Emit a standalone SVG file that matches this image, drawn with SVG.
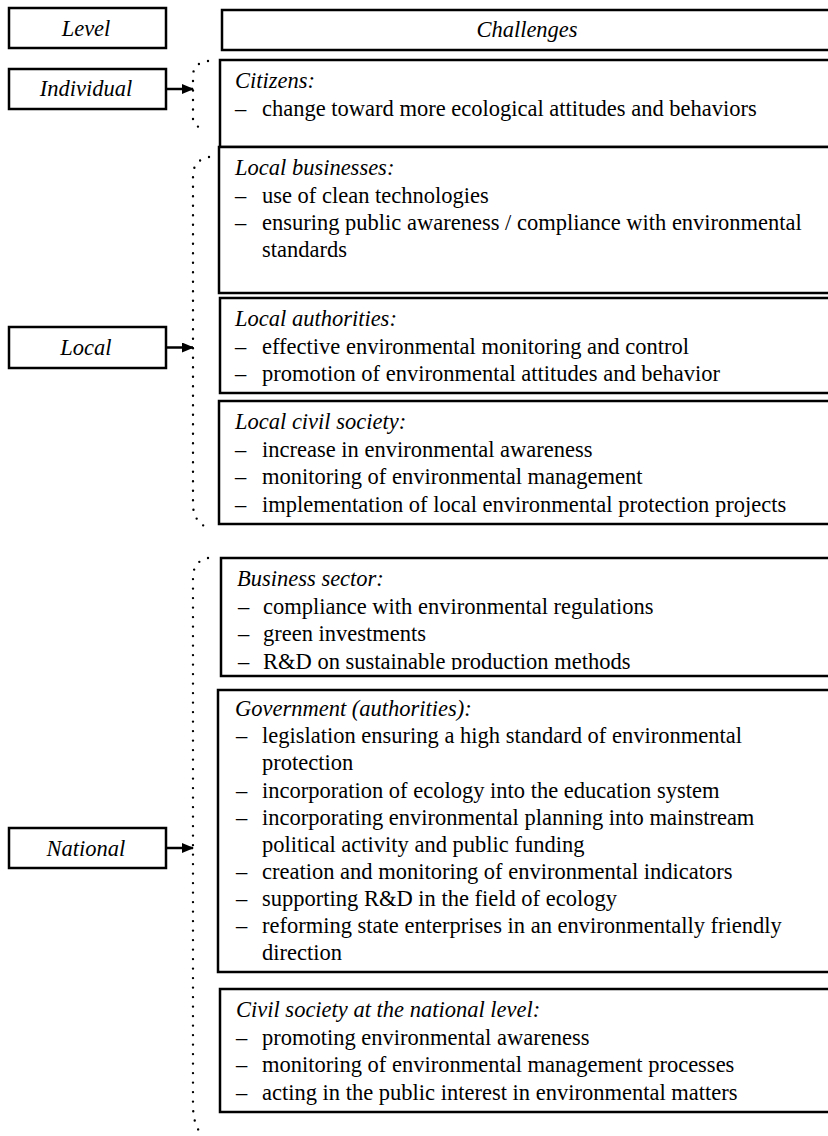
<svg xmlns="http://www.w3.org/2000/svg" width="828" height="1136" viewBox="0 0 828 1136">
<style>
text{font-family:"Liberation Serif","Times New Roman",serif;font-size:22.5px;fill:#000}
.it{font-style:italic}
.c{text-anchor:middle}
.box{fill:#fff;stroke:#000;stroke-width:2.5}
.dots{fill:none;stroke:#000;stroke-width:2.4;stroke-linecap:round;stroke-dasharray:0 9.5}
.arr{stroke:#000;stroke-width:2.5}
</style>
<defs>
<marker id="ah" markerWidth="12" markerHeight="10" refX="11" refY="5" orient="auto" markerUnits="userSpaceOnUse">
<path d="M0,0 L12,5 L0,10 Z" fill="#000"/>
</marker>
<clipPath id="clipBiz"><rect x="218" y="558" width="700" height="112"/></clipPath>
</defs>
<rect width="828" height="1136" fill="#fff"/>

<g id="level-header">
<rect class="box" x="9" y="8" width="157" height="40"/>
<text class="it c" x="86" y="36">Level</text>
</g>
<g id="challenges-header">
<rect class="box" x="222" y="10" width="700" height="40"/>
<text class="it c" x="527" y="37">Challenges</text>
</g>

<g id="level-individual">
<rect class="box" x="9" y="69" width="157" height="40"/>
<text class="it c" x="86" y="96">Individual</text>
</g>
<g id="level-local">
<rect class="box" x="9" y="327" width="157" height="41"/>
<text class="it c" x="86" y="355">Local</text>
</g>
<g id="level-national">
<rect class="box" x="9" y="828" width="157" height="40"/>
<text class="it c" x="86" y="856">National</text>
</g>

<g id="citizens">
<rect class="box" x="220" y="60" width="700" height="87"/>
<text class="it" x="235" y="88">Citizens:</text>
<text x="235" y="115.5">–</text><text x="262" y="115.5">change toward more ecological attitudes and behaviors</text>
</g>

<g id="local-businesses">
<rect class="box" x="219" y="147" width="700" height="146"/>
<text class="it" x="235" y="175">Local businesses:</text>
<text x="235" y="202.5">–</text><text x="262" y="202.5">use of clean technologies</text>
<text x="235" y="230">–</text><text x="262" y="230">ensuring public awareness / compliance with environmental</text>
<text x="262" y="257">standards</text>
</g>

<g id="local-authorities">
<rect class="box" x="220" y="298" width="700" height="95"/>
<text class="it" x="235" y="326">Local authorities:</text>
<text x="235" y="353.5">–</text><text x="262" y="353.5">effective environmental monitoring and control</text>
<text x="235" y="381">–</text><text x="262" y="381">promotion of environmental attitudes and behavior</text>
</g>

<g id="local-civil-society">
<rect class="box" x="219" y="401" width="700" height="123"/>
<text class="it" x="235" y="429">Local civil society:</text>
<text x="235" y="456.5">–</text><text x="262" y="456.5">increase in environmental awareness</text>
<text x="235" y="484">–</text><text x="262" y="484">monitoring of environmental management</text>
<text x="235" y="511.5">–</text><text x="262" y="511.5">implementation of local environmental protection projects</text>
</g>

<g id="business-sector">
<rect class="box" x="221" y="558" width="700" height="118"/>
<g clip-path="url(#clipBiz)">
<text class="it" x="237" y="586">Business sector:</text>
<text x="238" y="613.5">–</text><text x="263" y="613.5">compliance with environmental regulations</text>
<text x="238" y="641">–</text><text x="263" y="641">green investments</text>
<text x="238" y="668.5">–</text><text x="263" y="668.5">R&amp;D on sustainable production methods</text>
</g>
</g>

<g id="government">
<rect class="box" x="218" y="690" width="700" height="282"/>
<text class="it" x="235" y="716">Government (authorities):</text>
<text x="236" y="743">–</text><text x="262" y="743">legislation ensuring a high standard of environmental</text>
<text x="262" y="770">protection</text>
<text x="236" y="797.5">–</text><text x="262" y="797.5">incorporation of ecology into the education system</text>
<text x="236" y="824.5">–</text><text x="262" y="824.5">incorporating environmental planning into mainstream</text>
<text x="262" y="851.5">political activity and public funding</text>
<text x="236" y="878.5">–</text><text x="262" y="878.5">creation and monitoring of environmental indicators</text>
<text x="236" y="906">–</text><text x="262" y="906">supporting R&amp;D in the field of ecology</text>
<text x="236" y="933">–</text><text x="262" y="933">reforming state enterprises in an environmentally friendly</text>
<text x="262" y="960">direction</text>
</g>

<g id="civil-society-national">
<rect class="box" x="220" y="989" width="700" height="123"/>
<text class="it" x="236" y="1017">Civil society at the national level:</text>
<text x="236" y="1044.5">–</text><text x="262" y="1044.5">promoting environmental awareness</text>
<text x="236" y="1072">–</text><text x="262" y="1072">monitoring of environmental management processes</text>
<text x="236" y="1099.5">–</text><text x="262" y="1099.5">acting in the public interest in environmental matters</text>
</g>

<g id="connectors">
<path class="dots" d="M208,61 Q193,63 193,76 L193,119 Q194,128 207,129"/>
<path class="dots" d="M209,157 Q193,160 193,176 L193,506 Q194,522 208,528"/>
<path class="dots" d="M208,558 Q193,561 193,578 L193,1108 Q194,1125 200,1132"/>
<line class="arr" x1="166" y1="89" x2="193" y2="89" marker-end="url(#ah)"/>
<line class="arr" x1="166" y1="347.5" x2="193" y2="347.5" marker-end="url(#ah)"/>
<line class="arr" x1="166" y1="848" x2="193" y2="848" marker-end="url(#ah)"/>
</g>
</svg>
